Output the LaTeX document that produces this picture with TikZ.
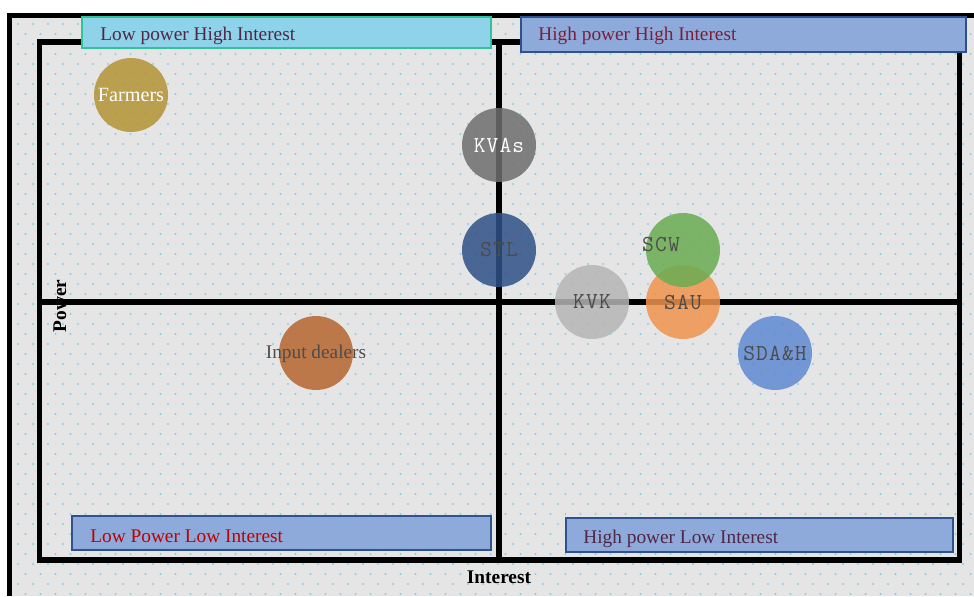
\documentclass[tikz,border=0pt]{standalone}
\usepackage{fontspec}
\setmainfont{Liberation Serif}
\newfontfamily\circfont[LetterSpace=5]{Latin Modern Mono}

\definecolor{paper}{HTML}{E5E5E5}
\definecolor{dotc}{HTML}{8CCDE6}
\definecolor{cyanfill}{HTML}{8FD3EA}
\definecolor{tealline}{HTML}{2FC39A}
\definecolor{bluefill}{HTML}{8EAADB}
\definecolor{blueline}{HTML}{2F528F}
\definecolor{plumtext}{HTML}{4F2745}
\definecolor{wintext}{HTML}{7A1F3A}
\definecolor{redtext}{HTML}{C00000}
\definecolor{farmc}{HTML}{B39335}
\definecolor{kvasc}{HTML}{6E6E6E}
\definecolor{stlc}{HTML}{2F5088}
\definecolor{scwc}{HTML}{6AAC52}
\definecolor{sauc}{HTML}{F0944E}
\definecolor{kvkc}{HTML}{B5B5B5}
\definecolor{sdahc}{HTML}{5F8AD2}
\definecolor{inputc}{HTML}{B7662F}

\tikzset{
  frame/.style={line width=3.2pt, black},
  quadbox/.style={rectangle, draw=blueline, fill=bluefill, line width=0.9pt, inner sep=0pt},
  quadtext/.style={anchor=west, inner sep=0pt, font=\fontsize{11}{12}\selectfont},
  actor/.style={circle, minimum size=1.48cm, inner sep=0pt, fill opacity=0.85, text opacity=1},
  monotext/.style={font=\circfont\fontsize{13}{13}\selectfont, text=black!70},
  axistext/.style={font=\bfseries\fontsize{11}{12}\selectfont}
}

\begin{document}
\begin{tikzpicture}[x=0.02cm, y=-0.02cm]
  \useasboundingbox (0,0) rectangle (974,596);
  \fill[white] (0,0) rectangle (974,596);
  \fill[paper] (12,18) rectangle (974,596);

  \foreach \r in {0,...,57} {
    \pgfmathsetmacro\yy{24+\r*10}
    \pgfmathsetmacro\off{mod(\r,2)*7.5}
    \foreach \c in {0,...,64}
      \fill[dotc] ({18+\off+\c*15},\yy) circle (0.7pt);
  }

  \draw[frame] (9.5,596) -- (9.5,15.5) -- (974,15.5);
  \draw[frame] (39.5,42) rectangle (959.5,560);
  \coordinate (vtop) at (499,42);
  \coordinate (vbot) at (499,560);
  \coordinate (hleft) at (39.5,302);
  \coordinate (hright) at (959.5,302);
  \draw[frame] (vtop) -- (vbot);
  \draw[frame] (hleft) -- (hright);

  \node[quadbox, draw=tealline, fill=cyanfill, line width=1.1pt, anchor=north west,
        minimum width=8.18cm, minimum height=0.62cm] (lhbox) at (81,16) {};
  \node[quadtext, text=plumtext] (lhtext) at (100,36) {Low power High Interest};
  \node[quadbox, anchor=north west, minimum width=8.9cm, minimum height=0.7cm] (hhbox) at (520,16) {};
  \node[quadtext, text=wintext] (hhtext) at (538,36) {High power High Interest};
  \node[quadbox, anchor=north west, minimum width=8.38cm, minimum height=0.68cm] (llbox) at (71,515) {};
  \node[quadtext, text=redtext] (lltext) at (90,536) {Low Power Low Interest};
  \node[quadbox, anchor=north west, minimum width=7.74cm, minimum height=0.68cm] (hlbox) at (565,517) {};
  \node[quadtext, text=plumtext] (hltext) at (583,539) {High power Low Interest};

  \node[actor, fill=farmc, text=white, font=\fontsize{11.5}{12}\selectfont] (farmers) at (131,95) {Farmers};
  \node[actor, fill=kvasc, monotext, text=white] (kvas) at (499,145) {KVAs};
  \node[actor, fill=stlc, monotext] (stl) at (499,250) {STL};
  \node[actor, fill=sauc, monotext] (sau) at (683,302) {SAU};
  \node[actor, fill=scwc] (scw) at (683,250) {};
  \node[monotext] (scwtext) at (661,245) {SCW};
  \node[actor, fill=kvkc, monotext] (kvk) at (592,302) {KVK};
  \node[actor, fill=sdahc, monotext] (sdah) at (775,353) {SDA\&H};
  \node[actor, fill=inputc] (input) at (316,353) {};
  \node[text=black!70, font=\fontsize{11}{12}\selectfont] (inputtext) at (316,354) {Input dealers};

  \node[axistext, rotate=90] (power) at (60,306) {Power};
  \node[axistext] (interest) at (499,577) {Interest};
\end{tikzpicture}
\end{document}
